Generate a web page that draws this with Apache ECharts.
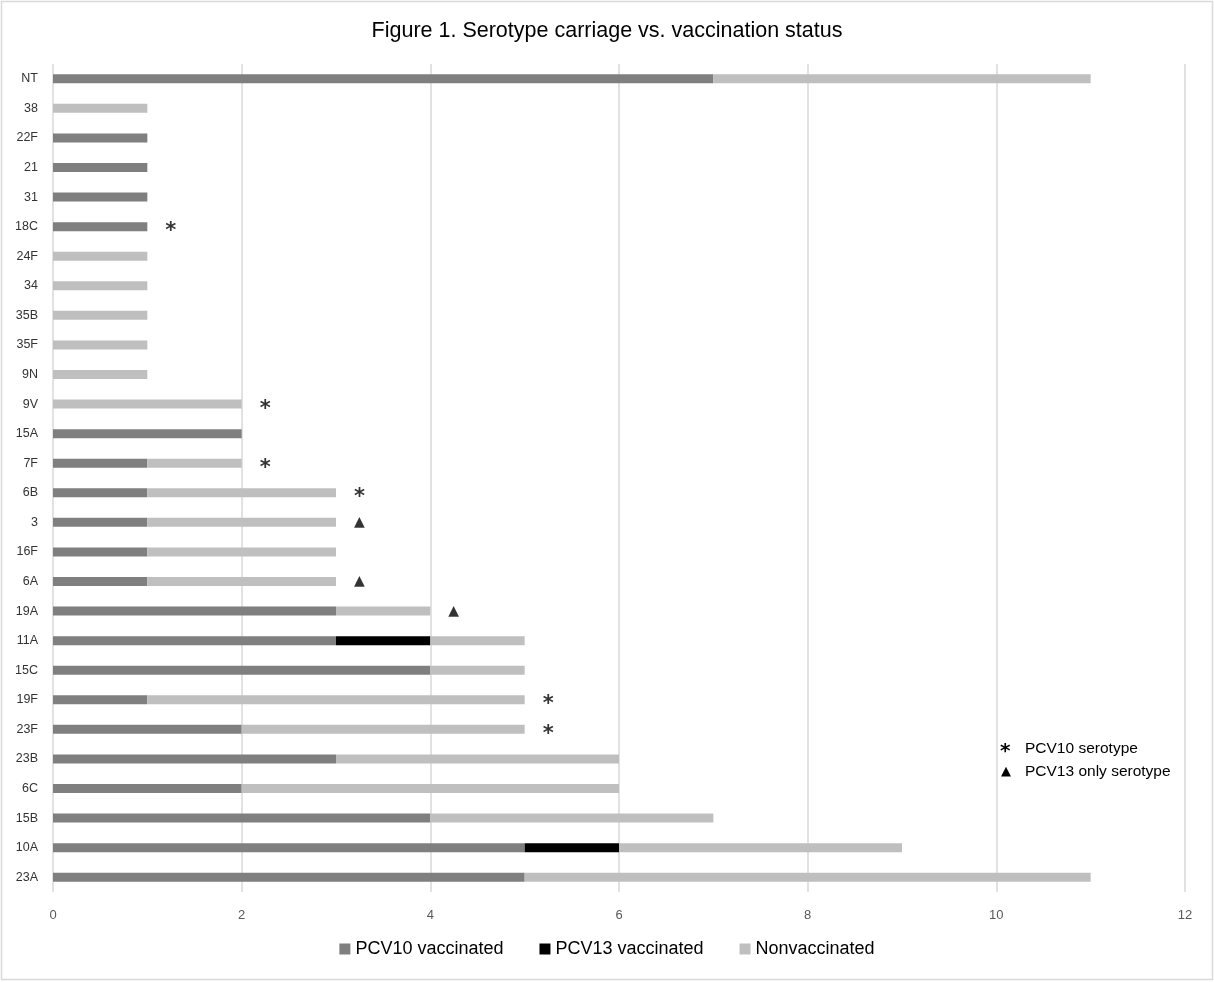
<!DOCTYPE html>
<html>
<head>
<meta charset="utf-8">
<script src="https://cdn.jsdelivr.net/npm/echarts@6/dist/echarts.min.js"></script>
<style>
html,body{margin:0;padding:0;background:#fff;}
#chart{width:1214px;height:982px;}
</style>
</head>
<body>
<div id="chart"></div>
<script>
const categories = ['23A','10A','15B','6C','23B','23F','19F','15C','11A','19A','6A','16F','3','6B','7F','15A','9V','9N','35F','35B','34','24F','18C','31','21','22F','38','NT'];
const pcv10Vaccinated = [5,5,4,2,3,2,1,4,3,3,1,1,1,1,1,2,0,0,0,0,0,0,1,1,1,1,0,7];
const pcv13Vaccinated = [0,1,0,0,0,0,0,0,1,0,0,0,0,0,0,0,0,0,0,0,0,0,0,0,0,0,0,0];
const nonvaccinated   = [6,3,3,4,3,3,4,1,1,1,2,2,2,2,1,0,2,1,1,1,1,1,0,0,0,0,1,4];
const markers = ['','','','','','*','*','','','▲','▲','','▲','*','*','','*','','','','','','*','','','','',''];
const seriesNames = ['PCV10 vaccinated','PCV13 vaccinated','Nonvaccinated'];
const xTicks = [0,2,4,6,8,10,12];

const FONT = 'Liberation Sans';
const markerData = [];
categories.forEach((c,i)=>{
  if(markers[i]) markerData.push({value:[pcv10Vaccinated[i]+pcv13Vaccinated[i]+nonvaccinated[i], c], mark: markers[i]});
});

const chart = echarts.init(document.getElementById('chart'), null, {renderer:'canvas'});
chart.setOption({
  backgroundColor:'#fff',
  animation:false,
  title:{text:'Figure 1. Serotype carriage vs. vaccination status', left:'center', top:15,
    textStyle:{fontFamily:FONT, fontSize:21.5, fontWeight:'normal', color:'#000'}},
  grid:{left:53, right:29, top:64, bottom:90, containLabel:false},
  legend:{bottom:19, left:'center', itemWidth:11, itemHeight:11, itemGap:36, icon:'rect',
    textStyle:{fontFamily:FONT, fontSize:18, color:'#000', padding:[0,0,0,0]}, data:seriesNames},
  xAxis:{type:'value', min:xTicks[0], max:xTicks[xTicks.length-1], interval:2,
    axisLine:{show:false}, axisTick:{show:false},
    splitLine:{show:true, lineStyle:{color:'#d9d9d9', width:1.5}},
    axisLabel:{fontFamily:FONT, fontSize:13, color:'#595959', margin:17}},
  yAxis:{type:'category', data:categories,
    axisLine:{show:false}, axisTick:{show:false},
    axisLabel:{fontFamily:FONT, fontSize:12.5, color:'#333', margin:15}},
  series:[
    {name:seriesNames[0], type:'bar', stack:'s', data:pcv10Vaccinated, barWidth:9, itemStyle:{color:'#7f7f7f'}},
    {name:seriesNames[1], type:'bar', stack:'s', data:pcv13Vaccinated, barWidth:9, itemStyle:{color:'#000000'}},
    {name:seriesNames[2], type:'bar', stack:'s', data:nonvaccinated, barWidth:9, itemStyle:{color:'#bfbfbf'}},
    {name:'markers', type:'scatter', data:markerData, symbolSize:0, silent:true,
      label:{show:true, position:'right', distance:18,
        formatter:p=>p.data.mark==='*' ? '{a|*}' : '{t|▲}',
        rich:{
          a:{fontFamily:'DejaVu Sans', fontSize:21, fontWeight:'bold', color:'#000', padding:[10,0,0,0]},
          t:{fontFamily:'DejaVu Sans', fontSize:14, color:'#000'}
        }}}
  ],
  graphic:[
    {type:'rect', shape:{x:1.5, y:1.5, width:1211, height:978}, style:{fill:'none', stroke:'#d9d9d9', lineWidth:1.5}, silent:true},
    {type:'text', left:1000, top:742, style:{text:'*', fontFamily:'DejaVu Sans', fontSize:20, fontWeight:'bold', fill:'#000'}},
    {type:'text', left:1025, top:741, style:{text:'PCV10 serotype', fontFamily:FONT, fontSize:15.5, fill:'#000'}},
    {type:'text', left:1001, top:765, style:{text:'▲', fontFamily:'DejaVu Sans', fontSize:13, fill:'#000'}},
    {type:'text', left:1025, top:764, style:{text:'PCV13 only serotype', fontFamily:FONT, fontSize:15.5, fill:'#000'}}
  ]
});
</script>
</body>
</html>
